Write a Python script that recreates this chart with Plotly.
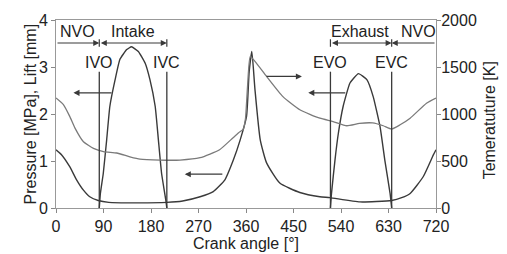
import plotly.graph_objects as go

# ---- data ----
pressure_deg = [0, 10, 26, 39, 52, 64, 80, 100, 150, 210, 240, 273, 298, 320, 336, 349, 361, 366, 371,
                377, 387, 399, 424, 462, 500, 519, 576, 636, 655, 671, 696, 715, 720]
pressure_mpa = [1.24, 1.14, 0.88, 0.6, 0.38, 0.24, 0.16, 0.12, 0.11, 0.12, 0.15, 0.24, 0.35, 0.6, 1.02, 1.45, 1.95, 2.9, 3.33,
                2.52, 1.45, 0.96, 0.53, 0.33, 0.24, 0.22, 0.13, 0.16, 0.22, 0.31, 0.67, 1.13, 1.24]

temp_deg = [0, 14, 26, 36, 52, 71, 90, 115, 140, 159, 197, 235, 273, 310, 335, 346, 355, 359, 363, 368,
            377, 399, 430, 462, 500, 525, 551, 575, 600, 620, 636, 652, 671, 702, 720]
temp_k = [1170, 1100, 975, 850, 705, 635, 600, 585, 545, 520, 510, 510, 535, 620, 745, 800, 840, 950, 1300, 1610,
          1560, 1400, 1185, 1045, 955, 920, 875, 900, 905, 875, 840, 885, 955, 1115, 1170]

intake_deg = [82, 84, 89.6, 96, 102, 112, 121, 134, 143, 156, 169, 178, 188, 194, 200, 208, 210]
intake_mm = [0, 0.3, 0.74, 1.45, 2.16, 2.73, 3.16, 3.37, 3.43, 3.33, 3.08, 2.73, 2.16, 1.45, 0.74, 0.17, 0]

exhaust_deg = [520, 522, 528.6, 535, 544, 557, 573, 589, 601, 614, 623, 633, 636]
exhaust_mm = [0, 0.31, 1.02, 1.59, 2.16, 2.66, 2.86, 2.73, 2.37, 1.73, 1.02, 0.31, 0]

valve_events = [82, 210, 520, 636]
valve_labels = ["IVO", "IVC", "EVO", "EVC"]
x_ticks = [0, 90, 180, 270, 360, 450, 540, 630, 720]

FONT = "Liberation Sans, Arial, sans-serif"
TXT = "#222"
DARK = "#3a3a3a"
LIGHT = "#7a7a7a"

fig = go.Figure()
fig.add_trace(go.Scatter(x=temp_deg, y=temp_k, yaxis="y2", mode="lines",
                         line=dict(color=LIGHT, width=1.3, shape="spline", smoothing=0.5)))
fig.add_trace(go.Scatter(x=pressure_deg, y=pressure_mpa, mode="lines",
                         line=dict(color=DARK, width=1.4, shape="spline", smoothing=0.5)))
fig.add_trace(go.Scatter(x=intake_deg, y=intake_mm, mode="lines",
                         line=dict(color=DARK, width=1.4, shape="spline", smoothing=0.4)))
fig.add_trace(go.Scatter(x=exhaust_deg, y=exhaust_mm, mode="lines",
                         line=dict(color=DARK, width=1.4, shape="spline", smoothing=0.4)))

shapes = []
annotations = []
row_y = 3.51
for ev, lab in zip(valve_events, valve_labels):
    shapes.append(dict(type="line", xref="x", yref="y", x0=ev, x1=ev, y0=0, y1=2.9,
                       line=dict(color=DARK, width=1.3)))
    shapes.append(dict(type="line", xref="x", yref="y", x0=ev, x1=ev, y0=3.43, y1=3.59,
                       line=dict(color=DARK, width=1.2)))
    annotations.append(dict(x=ev, y=3.09, xref="x", yref="y", text=lab, showarrow=False,
                            font=dict(size=16, color=TXT, family=FONT)))

def arrow(x_tail, x_head, y, both=False):
    annotations.append(dict(x=x_head, y=y, ax=x_tail, ay=y, xref="x", yref="y", axref="x", ayref="y",
                            text="", showarrow=True, arrowhead=2, arrowsize=1.1, arrowwidth=1.1,
                            arrowcolor=DARK, arrowside="end+start" if both else "end",
                            startarrowhead=2, startarrowsize=1.1))

# phase row
arrow(0, valve_events[0], row_y)
arrow(valve_events[0], valve_events[1], row_y, both=True)
arrow(valve_events[2], valve_events[3], row_y, both=True)
arrow(720, valve_events[3], row_y)
for txt, xc in [("NVO", 40), ("Intake", 146), ("Exhaust", 576), ("NVO", 686)]:
    annotations.append(dict(x=xc, y=3.76, xref="x", yref="y", text=txt, showarrow=False,
                            font=dict(size=16, color=TXT, family=FONT)))

# curve-to-axis arrows
arrow(108, 33, 2.45)
arrow(318, 244, 0.72)
arrow(396, 466, 2.8)
arrow(551, 478, 2.45)

# axis titles (placed as rotated text)
annotations.append(dict(x=-0.095, y=0.5, xref="paper", yref="paper", text="Pressure [MPa], Lift [mm]",
                        textangle=-90, showarrow=False, font=dict(size=16, color=TXT, family=FONT)))
annotations.append(dict(x=1.168, y=0.468, xref="paper", yref="paper", text="Temeratuture [K]",
                        textangle=-90, showarrow=False, font=dict(size=16, color=TXT, family=FONT)))

fig.update_layout(
    width=507, height=254,
    margin=dict(l=56, r=71, t=20, b=46),
    paper_bgcolor="white", plot_bgcolor="white",
    showlegend=False,
    font=dict(family=FONT, size=16, color=TXT),
    shapes=shapes, annotations=annotations,
    xaxis=dict(range=[0, 720], tickvals=x_ticks, ticks="outside", ticklen=4, tickcolor="#888",
               showline=True, linecolor="#999", linewidth=1, mirror=True, showgrid=False, zeroline=False,
               automargin=False,
               title=dict(text="Crank angle [°]", standoff=2, font=dict(size=16)),
               tickfont=dict(size=16)),
    yaxis=dict(range=[0, 4], tickvals=[0, 1, 2, 3, 4], ticks="outside", ticklen=4, tickcolor="#888",
               showline=True, linecolor="#999", linewidth=1, showgrid=False, zeroline=False,
               automargin=False, tickfont=dict(size=16)),
    yaxis2=dict(range=[0, 2000], tickvals=[0, 500, 1000, 1500, 2000], overlaying="y", side="right",
                ticks="outside", ticklen=4, tickcolor="#888", automargin=False,
                showline=True, linecolor="#999", linewidth=1, showgrid=False, zeroline=False,
                ticklabelstandoff=-3,
                tickfont=dict(size=16)),
)

fig.write_html("out.html", config={"displayModeBar": False},
               post_script="document.body.style.margin='0';")
